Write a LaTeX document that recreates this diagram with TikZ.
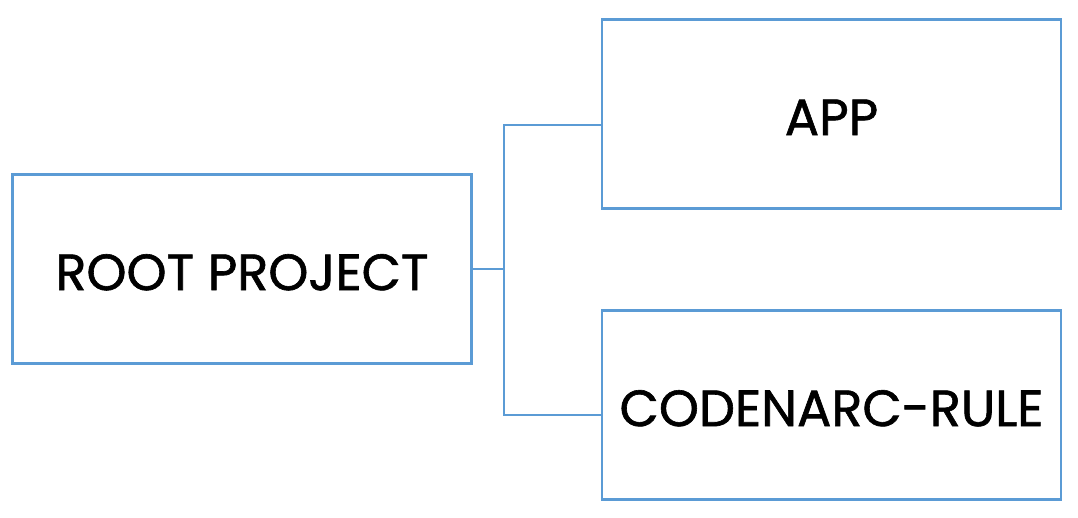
\documentclass[tikz,border=0pt]{standalone}
\usepackage{fontspec}
\setmainfont{Poppins}
\newfontfamily\projfont{Poppins}[FakeBold=1.2]
\usetikzlibrary{calc}
\definecolor{boxblue}{HTML}{5B9BD5}
\tikzset{proj/.style={draw=boxblue,line width=0.75pt,minimum width=4.59cm,minimum height=1.89cm,inner sep=0pt,
    font=\projfont\fontsize{14.5}{16}\selectfont,text height=12pt,text depth=0pt}}
\tikzset{link/.style={draw=boxblue,line width=0.75pt}}

\begin{document}
\begin{tikzpicture}[x=0.01cm,y=-0.01cm]
                    \useasboundingbox (0,0) rectangle (1078,517);
                    \node[proj] (R) at (242,269) {ROOT PROJECT};
                    \node[proj] (A) at (831.5,114) {APP};
                    \node[proj] (C) at (831.5,405) {CODENARC-RULE};

                    \coordinate (J) at ($(R.east)+(31,0)$);
                    \coordinate (Ea) at ($(A.west)+(0,11)$);
                    \coordinate (Ec) at ($(C.west)+(0,10)$);
                    \draw[link] (R.east) -- (J);
                    \draw[link] (Ea) -| (J) |- (Ec);
                \end{tikzpicture}
\end{document}
